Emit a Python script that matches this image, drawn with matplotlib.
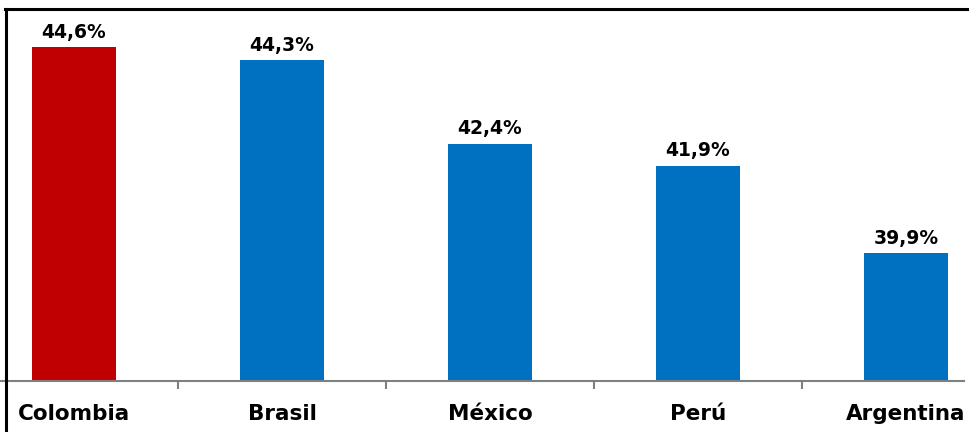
import matplotlib.pyplot as plt
from matplotlib.lines import Line2D
import numpy as np

# Data
countries = ["Colombia", "Brasil", "México", "Perú", "Argentina"]
values = [44.6, 44.3, 42.4, 41.9, 39.9]
bar_colors = ["#C00000", "#0070C0", "#0070C0", "#0070C0", "#0070C0"]

W, H = 969, 432
fig = plt.figure(figsize=(W / 100, H / 100), dpi=100, facecolor="white")

# axes extends slightly past the left edge (reference is a cropped screenshot)
left_px, right_px = -30, 1010
bottom_px, top_px = 380.7, 10
ax = fig.add_axes([left_px / W, 1 - bottom_px / H,
                   (right_px - left_px) / W, (bottom_px - top_px) / H])

x = np.arange(len(countries))
ax.bar(x, values, width=0.40, color=bar_colors, zorder=2)

for xi, v in zip(x, values):
    ax.annotate(f"{v:.1f}%".replace(".", ","), (xi, v),
                xytext=(0, 4), textcoords="offset points",
                ha="center", va="bottom", fontsize=13.5, fontweight="bold",
                family="DejaVu Sans", color="black")

ax.set_xlim(-0.5, len(countries) - 0.5)
ax.set_ylim(37.0, 45.45)

ax.set_xticks(x)
ax.set_xticklabels(countries, fontsize=15.5, fontweight="bold",
                   family="DejaVu Sans")
ax.tick_params(axis="x", which="major", length=0, pad=17)
ax.set_xticks(np.arange(len(countries) - 1) + 0.5, minor=True)
ax.tick_params(axis="x", which="minor", length=6, width=1.5, color="#808080")
ax.set_yticks([])

for side in ["top", "right", "left"]:
    ax.spines[side].set_visible(False)
ax.spines["bottom"].set_color("#808080")
ax.spines["bottom"].set_linewidth(1.5)
ax.spines["bottom"].set_bounds(-0.5, len(countries) - 0.72)

# screenshot frame: top and left black border
fig.add_artist(Line2D([5 / W, 1], [1 - 9 / H, 1 - 9 / H],
                      transform=fig.transFigure, color="black", lw=2.2))
fig.add_artist(Line2D([6 / W, 6 / W], [0, 1 - 9 / H],
                      transform=fig.transFigure, color="black", lw=2.2))

fig.savefig("out.png", dpi=100, facecolor="white")
